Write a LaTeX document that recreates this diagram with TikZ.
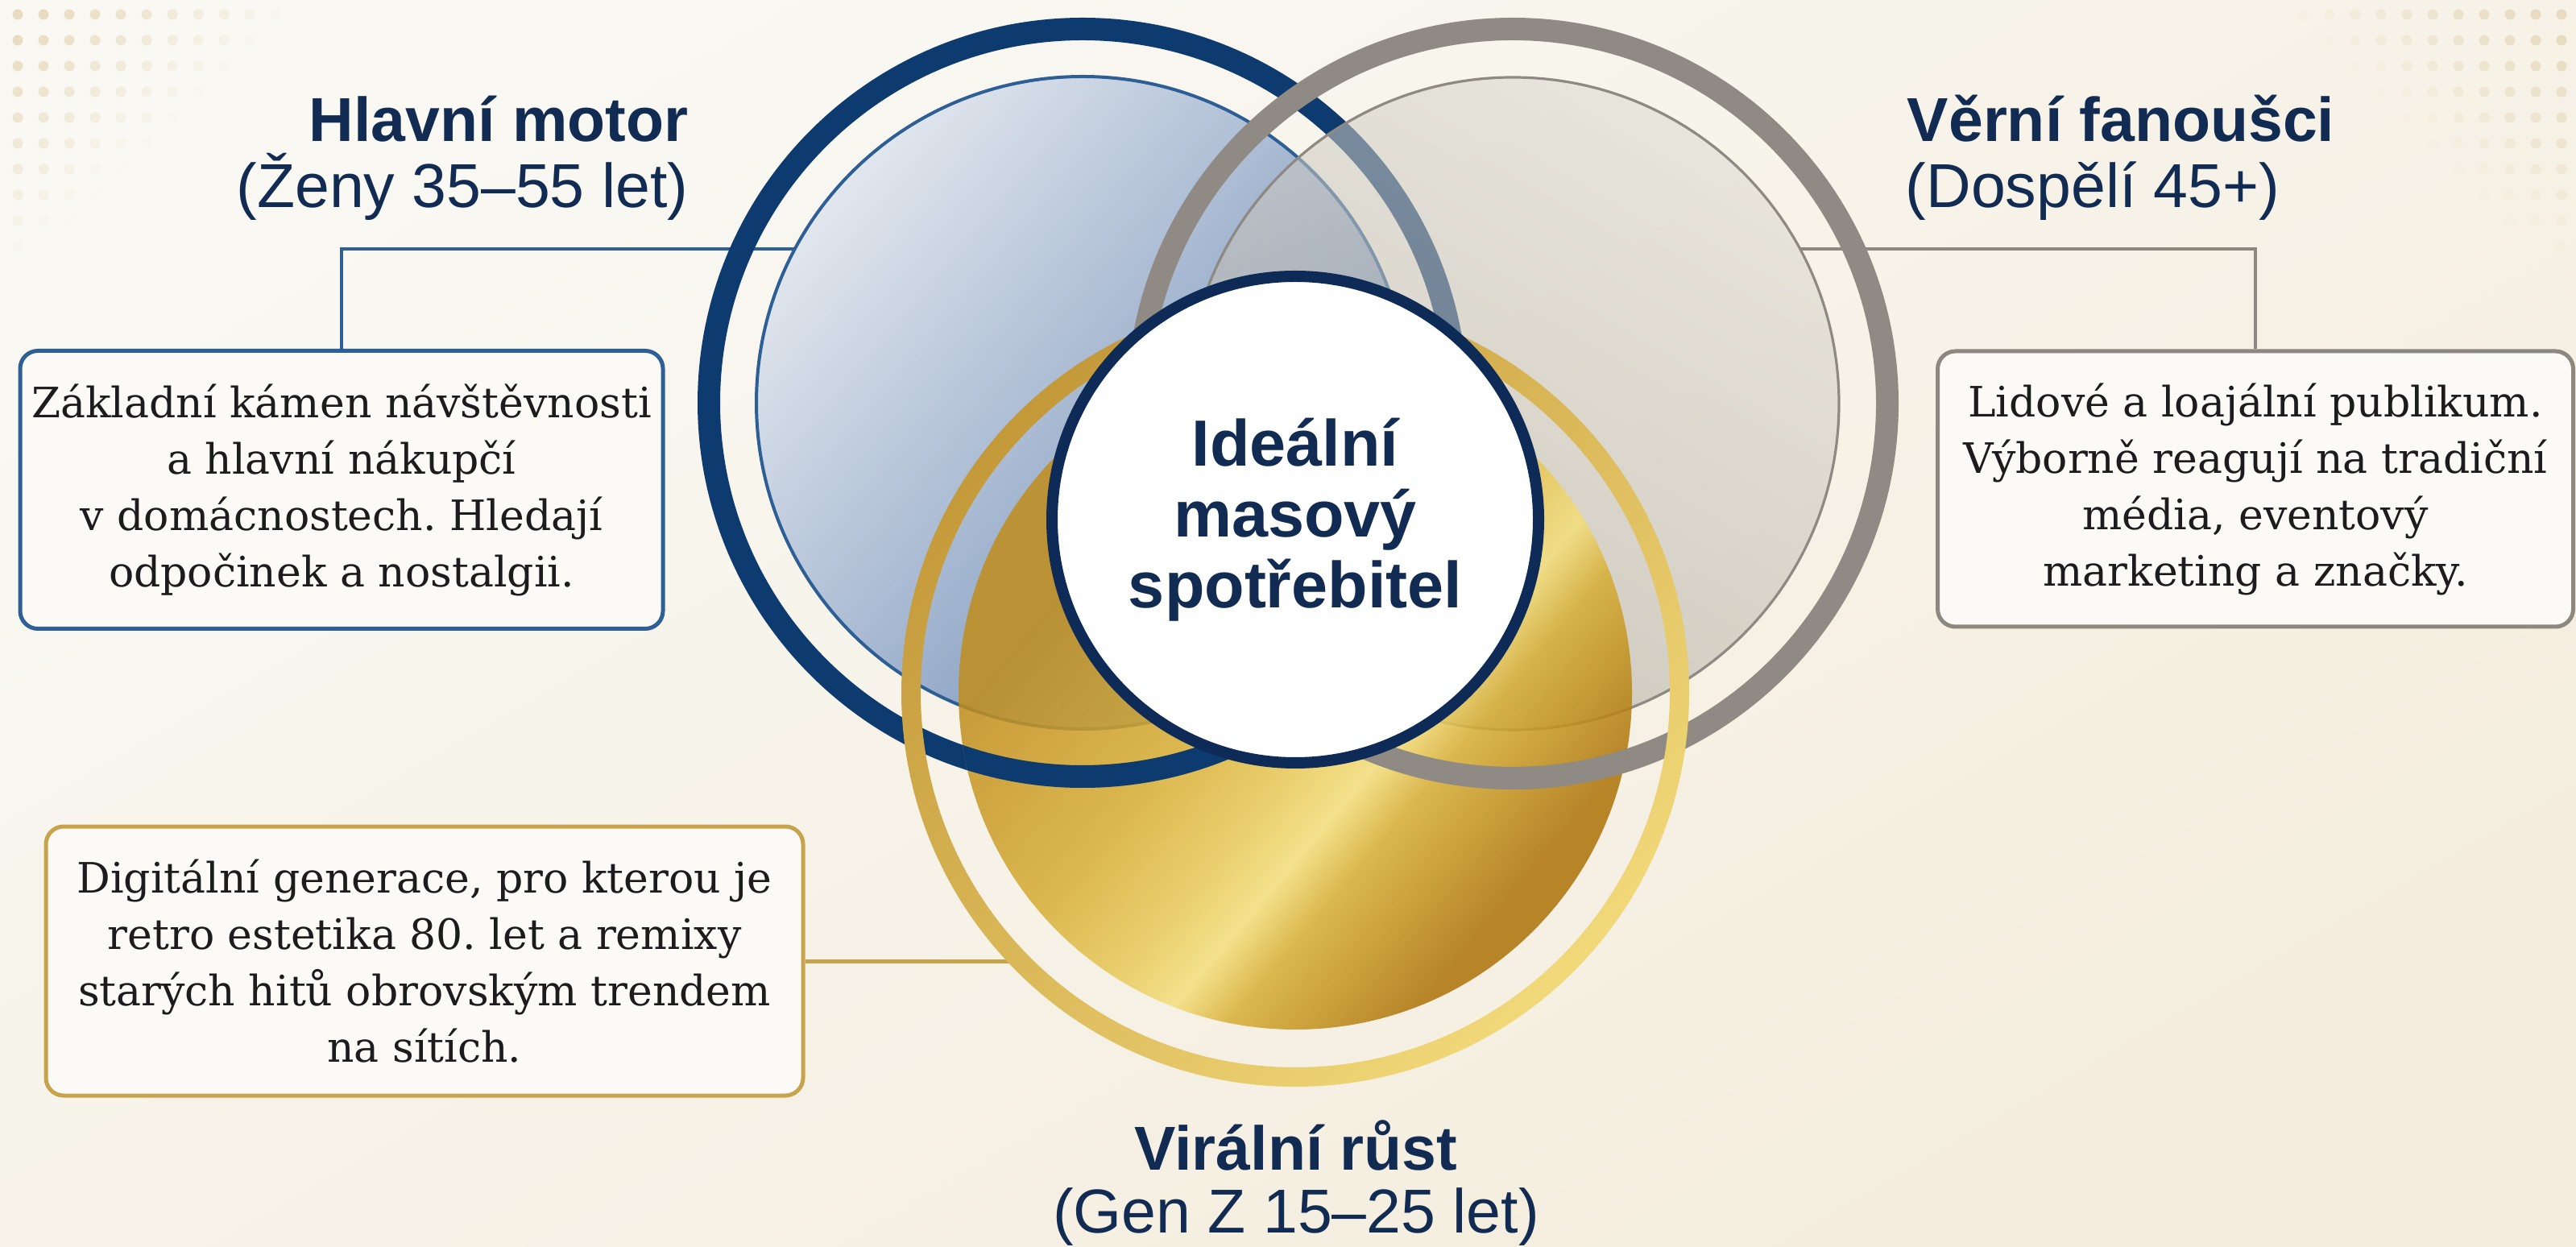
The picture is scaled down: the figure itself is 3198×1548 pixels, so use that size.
\documentclass[tikz,border=0pt]{standalone}
\usepackage{fontspec}
\setmainfont{DejaVu Serif}
\newfontfamily\headfont{Liberation Sans}
\usetikzlibrary{calc}
\frenchspacing
\definecolor{navy}{HTML}{112B52}
\definecolor{bgL}{HTML}{F9F8F3}
\definecolor{bgR}{HTML}{F4EDDD}
\definecolor{dotc}{HTML}{E6D8B8}
\definecolor{blueRing}{HTML}{0E3B6F}
\definecolor{blueOut}{HTML}{2D5E95}
\definecolor{blueL}{HTML}{E2E7EE}
\definecolor{blueD}{HTML}{6A89B4}
\definecolor{grayRing}{HTML}{8F8B84}
\definecolor{grayOut}{HTML}{8E8A83}
\definecolor{grayL}{HTML}{DCD9D1}
\definecolor{grayD}{HTML}{ADA89C}
\definecolor{goldA}{HTML}{C18D1C}
\definecolor{goldB}{HTML}{D7AE35}
\definecolor{goldC}{HTML}{EACB5C}
\definecolor{goldD}{HTML}{F4DF7C}
\definecolor{goldE}{HTML}{AD7308}
\definecolor{goldRD}{HTML}{C4993A}
\definecolor{goldRL}{HTML}{F1D878}
\definecolor{coreNavy}{HTML}{0D2B56}
\definecolor{boxfill}{HTML}{FBFAF6}
\definecolor{boxBlue}{HTML}{2E5F96}
\definecolor{boxGray}{HTML}{8D887F}
\definecolor{boxGold}{HTML}{C9A34C}
\definecolor{bodytext}{HTML}{1C1C1C}
\pgfdeclarehorizontalshading{goldmetal}{100bp}{color(0bp)=(goldA); color(32bp)=(goldA); color(46bp)=(goldB); color(54bp)=(goldC); color(58bp)=(goldD); color(62bp)=(goldB); color(72bp)=(goldE); color(100bp)=(goldE)}
\tikzset{
  ttl/.style={font=\headfont\bfseries\fontsize{19.25}{21}\selectfont, text=navy, inner sep=0pt},
  subttl/.style={font=\headfont\fontsize{19.25}{21}\selectfont, text=navy, inner sep=0pt},
  descbox/.style={rounded corners=5.5pt, line width=1.25pt, fill=boxfill, align=center, inner sep=0pt, font=\fontsize{13}{17.5}\selectfont, text=bodytext},
  conn/.style={line width=1pt},
  thickring/.style={line width=7pt},
}
\begin{document}
\begin{tikzpicture}[x=0.25pt,y=-0.25pt]
\useasboundingbox (0,0) rectangle (3198,1548);
\shade[left color=bgL, right color=bgR, shading angle=30] (0,0) rectangle (3198,1548);

% decorative dots
\foreach \i in {0,...,11}{
  \foreach \j in {0,...,9}{
    \pgfmathsetmacro\dd{\i/10+\j/9}
    \pgfmathsetmacro\op{max(0,min(1,1.1-\dd))*0.85}
    \fill[dotc, opacity=\op] (22+32*\i, 18+32*\j) circle (6.5);
    \fill[dotc, opacity=\op] (3180-32*\i, 18+32*\j) circle (6.5);
  }
}

% centres and connector ends
\coordinate (blueC) at (1344,500);
\coordinate (grayC) at (1878,501);
\coordinate (goldC) at (1608,860);
\coordinate (bL) at (987,309);
\coordinate (rR) at (2234,309);
\coordinate (gL) at (1255,1193);

% description boxes
\node[descbox, draw=boxBlue, minimum width=199.5pt, minimum height=86.25pt] (lbox) at (424,608)
  {Základní kámen návštěvnosti\\a hlavní nákupčí\\v domácnostech. Hledají\\odpočinek a nostalgii.};
\node[descbox, draw=boxGray, minimum width=197.25pt, minimum height=85.5pt] (rbox) at (2800,607)
  {Lidové a loajální publikum.\\Výborně reagují na tradiční\\média, eventový\\marketing a značky.};
\node[descbox, draw=boxGold, minimum width=235pt, minimum height=83.5pt] (gbox) at (527,1193)
  {Digitální generace, pro kterou je\\retro estetika 80. let a remixy\\starých hitů obrovským trendem\\na sítích.};

% connectors
\draw[conn, boxBlue] (lbox.north) |- (bL);
\draw[conn, boxGray] (rbox.north) |- (rR);
\draw[conn, boxGold, line width=1.25pt] (gbox.east) -- (gbox.east -| gL);

% blue set
\path[shade, left color=blueL, right color=blueD, shading angle=50, draw=blueOut, line width=1pt] (blueC) circle (405);
\draw[blueRing, thickring] (blueC) circle (464);
% gray set
\path[shade, left color=grayL, right color=grayD, shading angle=-30, fill opacity=0.55, draw=grayOut, line width=0.8pt] (grayC) circle (405);
\draw[grayRing, thickring] (grayC) circle (465);
% gold set
\shade[shading=goldmetal, shading angle=-40, fill opacity=0.85] (goldC) circle (418);
\begin{scope}
  \clip (goldC) circle (418);
  \draw[blueRing, thickring] (blueC) circle (464);
  \draw[grayRing, thickring] (grayC) circle (465);
\end{scope}
\shade[even odd rule, left color=goldRD, right color=goldRL, shading angle=45] (goldC) circle (489) (goldC) circle (465);

% centre
\node[circle, draw=coreNavy, line width=3.5pt, fill=white, minimum size=151pt, inner sep=0pt, align=center,
      font=\headfont\bfseries\fontsize{20.25}{22}\selectfont, text=navy] (core) at (1608,645)
  {Ideální\\masový\\spotřebitel};

% titles
\node[ttl, anchor=base east] (tL1) at (855,176) {Hlavní motor};
\node[subttl, anchor=base east] (tL2) at (855,258) {(Ženy 35–55 let)};
\node[ttl, anchor=base west] (tR1) at (2367,176) {Věrní fanoušci};
\node[subttl, anchor=base west] (tR2) at (2365,258) {(Dospělí 45+)};
\node[ttl, anchor=base] (tB1) at (1609,1452) {Virální růst};
\node[subttl, anchor=base] (tB2) at (1609,1530) {(Gen Z 15–25 let)};
\end{tikzpicture}
\end{document}
